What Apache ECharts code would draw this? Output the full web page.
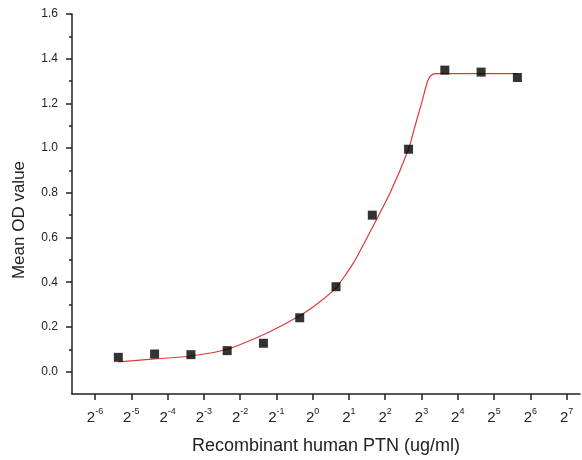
<!DOCTYPE html>
<html>
<head>
<meta charset="utf-8">
<script src="https://cdn.jsdelivr.net/npm/echarts@6/dist/echarts.min.js"></script>
<style>
  html, body { margin: 0; padding: 0; background: #fff; }
  #chart { width: 582px; height: 460px; }
</style>
</head>
<body>
<div id="chart"></div>
<script>
// concentrations (ug/ml) and mean OD
var concs = [0.0244, 0.0488, 0.0977, 0.1953, 0.3906, 0.7813, 1.5625, 3.125, 6.25, 12.5, 25, 50];
var meanOD = [0.064, 0.079, 0.076, 0.094, 0.127, 0.241, 0.380, 0.700, 0.995, 1.349, 1.340, 1.316];

// fitted curve
var fitConc = [0.0244, 0.0488, 0.0977, 0.195, 0.39, 0.78, 1.1, 1.56, 2.2, 3.13, 4.4, 6.25, 7.0, 8.0, 9.0, 9.6, 10.5, 12.5, 25, 50];
var fitOD = [0.044, 0.057, 0.070, 0.10, 0.165, 0.25, 0.305, 0.375, 0.49, 0.645, 0.80, 0.996, 1.09, 1.20, 1.30, 1.325, 1.333, 1.333, 1.333, 1.333];

// tick labels
var xPowers = [-6, -5, -4, -3, -2, -1, 0, 1, 2, 3, 4, 5, 6, 7];
var yTicks = [0, 0.2, 0.4, 0.6, 0.8, 1.0, 1.2, 1.4, 1.6];
var yMinor = [0.1, 0.3, 0.5, 0.7, 0.9, 1.1, 1.3, 1.5];

var font = "Liberation Sans";

function pairs(xs, ys) {
  return xs.map(function (c, i) { return [Math.log2(c), ys[i]]; });
}

var chart = echarts.init(document.getElementById("chart"));
var option = {
  animation: false,
  grid: { left: 72, right: 2, top: 14, bottom: 66 },
  xAxis: {
    type: "value",
    min: -6.634,
    max: 7.37,
    name: "Recombinant human PTN (ug/ml)",
    nameLocation: "middle",
    nameGap: 43,
    nameTextStyle: { fontFamily: font, fontSize: 18, color: "#222" },
    axisLine: { show: true, onZero: false, lineStyle: { color: "#222", width: 1.5 } },
    axisTick: { show: true, customValues: xPowers, length: 6, lineStyle: { color: "#222", width: 1.5 } },
    axisLabel: {
      customValues: xPowers,
      margin: 13,
      formatter: function (v) { return "{b|2}{s|" + v + "}"; },
      rich: {
        b: { fontFamily: font, fontSize: 15, color: "#222", lineHeight: 18, verticalAlign: "bottom" },
        s: { fontFamily: font, fontSize: 9, color: "#222", lineHeight: 18, verticalAlign: "top" }
      }
    },
    splitLine: { show: false }
  },
  yAxis: [
    {
      type: "value",
      min: -0.1,
      max: 1.6,
      name: "Mean OD value",
      nameLocation: "middle",
      nameGap: 44,
      nameTextStyle: { fontFamily: font, fontSize: 17, color: "#222", padding: [0, 32, 0, 0] },
      axisLine: { show: true, onZero: false, lineStyle: { color: "#222", width: 1.5 } },
      axisTick: { show: true, customValues: yTicks, length: 6, lineStyle: { color: "#222", width: 1.5 } },
      axisLabel: {
        customValues: yTicks,
        margin: 14,
        fontFamily: font,
        fontSize: 12,
        color: "#222",
        formatter: function (v) { return v.toFixed(1); }
      },
      splitLine: { show: false }
    },
    {
      type: "value",
      min: -0.1,
      max: 1.6,
      position: "left",
      axisLine: { show: false, onZero: false },
      axisTick: { show: true, customValues: yMinor, length: 3, lineStyle: { color: "#222", width: 1.5 } },
      axisLabel: { show: false },
      splitLine: { show: false }
    }
  ],
  series: [
    {
      type: "line",
      data: pairs(fitConc, fitOD),
      smooth: 0.2,
      showSymbol: false,
      lineStyle: { color: "#e0393b", width: 1.2 },
      z: 1
    },
    {
      type: "scatter",
      data: pairs(concs, meanOD),
      symbol: "rect",
      symbolSize: 9,
      itemStyle: { color: "#000" },
      z: 2
    }
  ]
};
chart.setOption(option);
</script>
</body>
</html>
